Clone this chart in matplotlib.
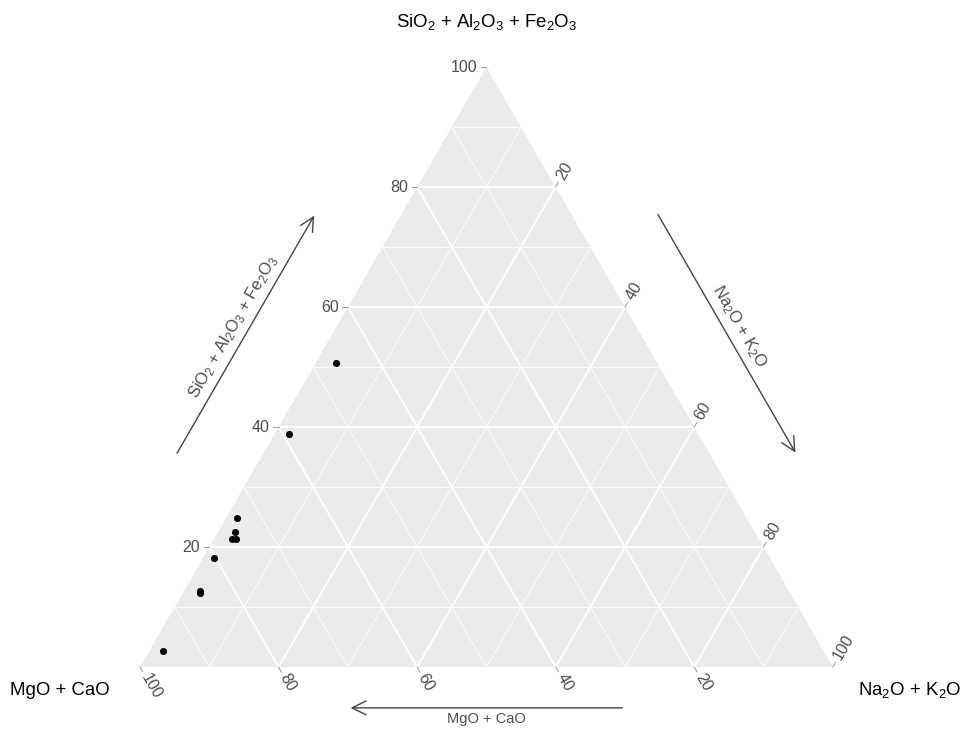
import numpy as np
import matplotlib.pyplot as plt

plt.rcParams['font.family'] = ['Liberation Sans', 'DejaVu Sans']
plt.rcParams['mathtext.default'] = 'regular'

# composition of each sample (percent)
top_vals = [50.7, 38.8, 24.9, 22.5, 21.3, 21.3, 18.2, 12.7, 12.4, 2.7]      # SiO2 + Al2O3 + Fe2O3
right_vals = [2.9, 2.1, 1.6, 2.5, 2.6, 3.2, 1.6, 2.3, 2.4, 2.0]            # Na2O + K2O
left_vals = [100 - t - r for t, r in zip(top_vals, right_vals)]           # MgO + CaO

ticks = [20, 40, 60, 80, 100]
grid_major = [20, 40, 60, 80]
grid_minor = [10, 30, 50, 70, 90]

lab_top = r'SiO$_2$ + Al$_2$O$_3$ + Fe$_2$O$_3$'
lab_left = 'MgO + CaO'
lab_right = r'Na$_2$O + K$_2$O'

H = np.sqrt(3) / 2


def tern(t, l, r):
    s = t + l + r
    t, r = t / s, r / s
    return r + t / 2, t * H


fig = plt.figure(figsize=(9.64, 7.53), dpi=100)
ax = fig.add_axes([0, 0, 1, 1])
S = 692.8
ax.set_xlim(-140 / S, 824 / S)
ax.set_ylim(-86 / S, 667 / S)
ax.axis('off')

# grey panel
tri = np.array([tern(0, 1, 0), tern(0, 0, 1), tern(1, 0, 0)])
ax.fill(tri[:, 0], tri[:, 1], color='#EBEBEB', zorder=0, lw=0)

# grid lines
for vals, lw in ((grid_minor, 0.6), (grid_major, 1.3)):
    for v in vals:
        f = v / 100
        segs = [
            (tern(f, 1 - f, 0), tern(f, 0, 1 - f)),   # constant top
            (tern(0, f, 1 - f), tern(1 - f, f, 0)),   # constant left
            (tern(1 - f, 0, f), tern(0, 1 - f, f)),   # constant right
        ]
        for a, b in segs:
            ax.plot([a[0], b[0]], [a[1], b[1]], color='white', lw=lw, zorder=1)

# ticks and tick labels
tl = 0.008
gap = 0.005
tcol = '#999999'
lcol = '#4D4D4D'
for v in ticks:
    f = v / 100
    # top component, left edge
    x, y = tern(f, 1 - f, 0)
    ax.plot([x - tl, x], [y, y], color=tcol, lw=0.7)
    ax.text(x - tl - gap, y, str(v), ha='right', va='center', fontsize=11.5, color=lcol)
    # right component, right edge
    x, y = tern(1 - f, 0, f)
    dx, dy = 0.5, H
    ax.plot([x, x + tl * dx], [y, y + tl * dy], color=tcol, lw=0.7)
    ax.text(x + (tl + gap) * dx, y + (tl + gap) * dy, str(v), rotation=60,
            rotation_mode='anchor', ha='left', va='center', fontsize=11.5, color=lcol)
    # left component, bottom edge
    x, y = tern(0, f, 1 - f)
    dx, dy = 0.5, -H
    ax.plot([x, x + tl * dx], [y, y + tl * dy], color=tcol, lw=0.7)
    ax.text(x + (tl + gap) * dx, y + (tl + gap) * dy, str(v), rotation=-60,
            rotation_mode='anchor', ha='left', va='center', fontsize=11.5, color=lcol)

# samples
pts = np.array([tern(t, l, r) for t, l, r in zip(top_vals, left_vals, right_vals)])
ax.scatter(pts[:, 0], pts[:, 1], s=26, color='black', zorder=3, lw=0)

# vertex labels
ax.text(0.5, H + 0.065, lab_top, ha='center', va='center', fontsize=13.4)
ax.text(-0.1155, -0.0332, lab_left, ha='center', va='center', fontsize=13.4)
ax.text(1.111, -0.0332, lab_right, ha='center', va='center', fontsize=13.4)

# direction arrows along each edge
acol = '#444444'
arrow_kw = dict(arrowstyle='->,head_length=1.0,head_width=0.5', color=acol, lw=1.0)
off = 0.108
top_pt = np.array(tern(1, 0, 0))
# left edge (top component increasing upward)
uL = np.array([0.5, H])
nL = np.array([-H, 0.5])
p0 = 0.29 * uL + off * nL
p1 = 0.694 * uL + off * nL
ax.annotate('', xy=p1, xytext=p0, arrowprops=arrow_kw)
m = (p0 + p1) / 2 + 0.021 * nL
ax.text(m[0], m[1], lab_top, rotation=60, ha='center', va='center', fontsize=12,
        color='#4D4D4D', rotation_mode='anchor')
# right edge (right component increasing downward)
uR = np.array([0.5, -H])
nR = np.array([H, 0.5])
p0 = top_pt + 0.304 * uR + off * nR
p1 = top_pt + 0.709 * uR + off * nR
ax.annotate('', xy=p1, xytext=p0, arrowprops=arrow_kw)
m = (p0 + p1) / 2 + 0.021 * nR
ax.text(m[0], m[1], lab_right, rotation=-60, ha='center', va='center', fontsize=12,
        color='#4D4D4D', rotation_mode='anchor')
# bottom edge (left component increasing leftward)
offb = 0.059
p0 = np.array(tern(0, 0.30, 0.70)) + np.array([0, -offb])
p1 = np.array(tern(0, 0.70, 0.30)) + np.array([0, -offb])
ax.annotate('', xy=p1, xytext=p0, arrowprops=arrow_kw)
ax.text(0.5, -offb - 0.016, lab_left, ha='center', va='center', fontsize=10.5, color='#4D4D4D')

fig.savefig('out.png', dpi=100)
